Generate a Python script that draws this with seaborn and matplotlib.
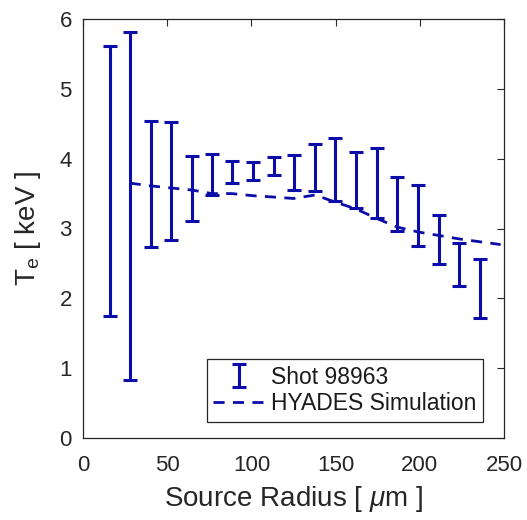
import numpy as np
import pandas as pd
import matplotlib
matplotlib.use("Agg")
import matplotlib.pyplot as plt
import seaborn as sns

# Shot 98963 measured error bars (source radius in um, T_e range in keV)
shot_radius = [15.8, 27.7, 40.4, 52.5, 65.0, 76.4, 88.3, 100.8, 113.4, 125.1,
               137.8, 149.6, 162.1, 174.8, 186.6, 199.1, 211.4, 223.5, 235.7]
shot_te_high = [5.62, 5.81, 4.54, 4.52, 4.04, 4.07, 3.97, 3.95, 4.03, 4.05,
                4.21, 4.29, 4.10, 4.15, 3.74, 3.62, 3.20, 2.79, 2.56]
shot_te_low = [1.75, 0.83, 2.73, 2.83, 3.11, 3.48, 3.65, 3.69, 3.77, 3.55,
               3.53, 3.39, 3.30, 3.15, 2.97, 2.75, 2.49, 2.17, 1.72]

# HYADES simulation
sim_radius = [27.7, 40.4, 52.5, 65.0, 76.4, 88.3, 100.8, 113.4, 125.1, 137.8,
              149.6, 162.1, 174.8, 186.6, 199.1, 211.4, 223.5, 235.7, 248.0]
sim_te = [3.65, 3.61, 3.58, 3.55, 3.50, 3.50, 3.47, 3.45, 3.43, 3.48,
          3.38, 3.28, 3.14, 3.02, 2.95, 2.90, 2.85, 2.81, 2.77]

x_ticks = [0, 50, 100, 150, 200, 250]
y_ticks = [0, 1, 2, 3, 4, 5, 6]

sns.set_theme(style="white")
plt.rcParams['font.family'] = ['Liberation Sans', 'DejaVu Sans']
plt.rcParams['mathtext.fontset'] = 'custom'
plt.rcParams['mathtext.rm'] = 'Liberation Sans'
plt.rcParams['mathtext.it'] = 'Liberation Sans:italic'

blue = '#0c0ca8'

fig = plt.figure(figsize=(5.27, 5.2), dpi=100)
ax = fig.add_axes([83/527, 1 - 438/520, (504 - 83)/527, (438 - 19)/520])

hi = np.array(shot_te_high)
lo = np.array(shot_te_low)
mid = (hi + lo) / 2
err = (hi - lo) / 2
eb = ax.errorbar(shot_radius, mid, yerr=err, fmt='none', ecolor=blue,
                 elinewidth=2.2, capsize=5, capthick=2.2, label='Shot 98963', zorder=3)

sim_df = pd.DataFrame({'radius': sim_radius, 'te': sim_te})
sns.lineplot(data=sim_df, x='radius', y='te', ax=ax, color=blue,
             linewidth=2.0, dashes=False, label='HYADES Simulation', zorder=2)
sim_line = ax.lines[-1]
sim_line.set_linestyle((0, (4, 3)))

ax.set_xlim(0, 250)
ax.set_ylim(0, 6)
ax.set_xticks(x_ticks)
ax.set_yticks(y_ticks)
ax.tick_params(direction='in', length=5, width=0.8, colors='#262626',
               labelsize=16, top=True, right=True, labelcolor='#262626')
ax.tick_params(axis='x', pad=12)
ax.tick_params(axis='y', pad=8)
for s in ax.spines.values():
    s.set_color('#262626')
    s.set_linewidth(0.9)

ax.set_xlabel(r'Source Radius [ $\mathit{\mu}$m ]', fontsize=20, color='#262626', labelpad=6)
ax.set_ylabel(r'T$_\mathregular{e}$ [ keV ]', fontsize=20, color='#262626', labelpad=12)

leg = ax.legend([eb, sim_line], ['Shot 98963', 'HYADES Simulation'],
                loc='lower right', bbox_to_anchor=(0.950, 0.038), borderaxespad=0,
                fontsize=16.5, frameon=True, fancybox=False, framealpha=1,
                edgecolor='#262626', handlelength=2.2, handletextpad=0.3,
                labelspacing=0.15, borderpad=0.3)
leg.get_frame().set_linewidth(0.9)
for t in leg.get_texts():
    t.set_color('#1a1a1a')

fig.savefig('out.png', dpi=100, facecolor='white')
